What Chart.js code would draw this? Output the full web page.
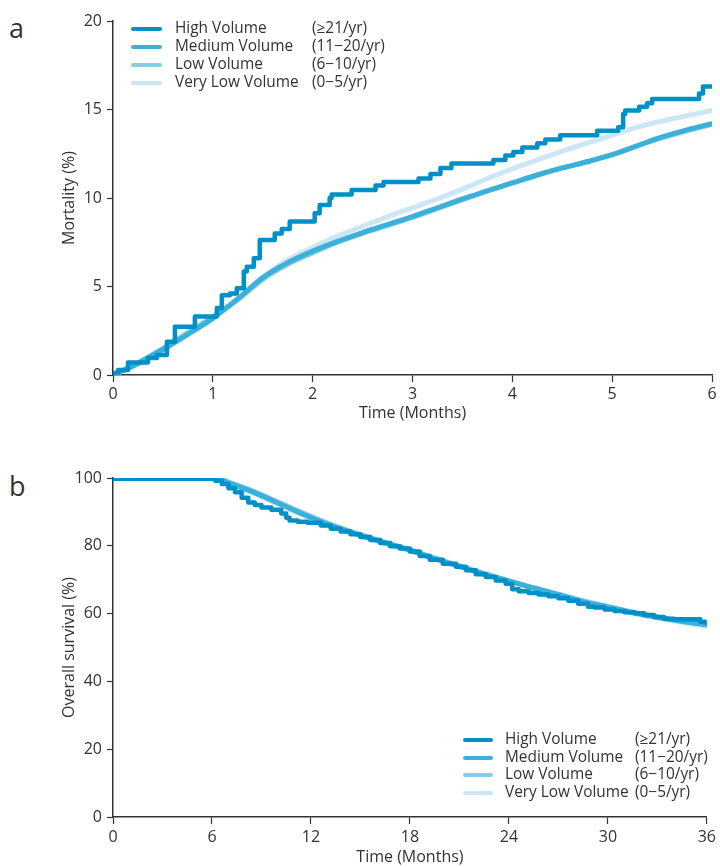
<!DOCTYPE html>
<html>
<head>
<meta charset="utf-8">
<script src="https://cdn.jsdelivr.net/npm/chart.js@4.4.1/dist/chart.umd.min.js"></script>
<style>
  html, body { margin: 0; padding: 0; background: #ffffff; }
  #page { position: relative; width: 720px; height: 867px; overflow: hidden;
          font-family: 'Open Sans', 'Noto Sans', sans-serif; color: #333333; }
  .panel { position: absolute; left: 0; }
  .tag { position: absolute; font-size: 27px; line-height: 1; color: #333333; }
  .legend { position: absolute; font-size: 15.4px; line-height: 18px; }
  .legend .sw { position: absolute; height: 4px; border-radius: 2px; }
  .legend .nm, .legend .rg { position: absolute; white-space: nowrap; }
</style>
</head>
<body>
<div id="page">
  <div class="tag" style="left:9px; top:14px;">a</div>
  <div class="tag" style="left:9px; top:472px;">b</div>
  <canvas id="chartA" class="panel" width="720" height="430" style="top:0px;"></canvas>
  <canvas id="chartB" class="panel" width="720" height="427" style="top:440px;"></canvas>
  <div id="legendA" class="legend"></div>
  <div id="legendB" class="legend"></div>
</div>
<script>
// ---- Series labels and colours ----
const seriesNames  = ['High Volume', 'Medium Volume', 'Low Volume', 'Very Low Volume'];
const seriesRanges = ['(\u226521/yr)', '(11\u221220/yr)', '(6\u221210/yr)', '(0\u22125/yr)'];
const seriesColors = ['#0090c8', '#3bb0da', '#8ccbe7', '#cbe7f4'];

// ---- Panel a: cumulative mortality (%) over 6 months ----
const monthsA   = [0, 0.25, 0.5, 0.75, 1, 1.25, 1.5, 1.75, 2, 2.25, 2.5, 2.75, 3,
                   3.25, 3.5, 3.75, 4, 4.25, 4.5, 4.75, 5, 5.25, 5.5, 5.75, 6];
const mediumA   = [0, 0.65, 1.45, 2.3, 3.2, 4.3, 5.5, 6.35, 7.0, 7.55, 8.05, 8.5, 8.95,
                   9.45, 9.95, 10.4, 10.85, 11.3, 11.7, 12.05, 12.45, 12.95, 13.45, 13.85, 14.2];
const lowA      = [0, 0.7, 1.5, 2.4, 3.3, 4.25, 5.4, 6.25, 6.9, 7.5, 8.0, 8.45, 8.9,
                   9.4, 9.9, 10.4, 10.85, 11.3, 11.7, 12.05, 12.45, 12.95, 13.4, 13.8, 14.15];
const veryLowA  = [0, 0.6, 1.4, 2.3, 3.25, 4.35, 5.55, 6.5, 7.2, 7.85, 8.4, 8.95, 9.45,
                   9.95, 10.5, 11.1, 11.65, 12.15, 12.65, 13.1, 13.55, 14.0, 14.35, 14.65, 14.95];
// High-volume group: step curve, value after each event time
const highTimesA = [0, 0.05, 0.15, 0.35, 0.44, 0.54, 0.62, 0.82, 1.04, 1.09, 1.17, 1.24, 1.31,
                    1.34, 1.41, 1.47, 1.62, 1.69, 1.77, 2.02, 2.07, 2.17, 2.19, 2.39, 2.63,
                    2.71, 3.06, 3.18, 3.28, 3.39, 3.81, 3.93, 4.01, 4.10, 4.25, 4.33, 4.48,
                    4.85, 5.06, 5.11, 5.13, 5.27, 5.35, 5.40, 5.87, 5.91, 5.98, 6.0];
const highA      = [0, 0.12, 0.28, 0.7, 0.96, 1.13, 1.88, 2.73, 3.3, 3.78, 4.5, 4.6, 4.9,
                    5.85, 6.12, 6.6, 7.63, 8.0, 8.25, 8.67, 9.14, 9.6, 10.0, 10.2, 10.45,
                    10.7, 10.9, 11.1, 11.35, 11.7, 11.95, 12.15, 12.4, 12.6, 12.85, 13.1, 13.3,
                    13.55, 13.8, 14.0, 14.75, 14.95, 15.15, 15.35, 15.6, 15.9, 16.3, 16.3];
const ticksA = { xMax: 6, xStep: 1, yMax: 20, yStep: 5 };

// ---- Panel b: overall survival (%) over 36 months ----
const monthsB   = [0, 6, 6.5, 7, 8, 9, 10, 11, 12, 13, 14, 15, 16, 17, 18, 19, 20,
                   21, 22, 23, 24, 25, 26, 27, 28, 29, 30, 31, 32, 33, 34, 35, 36];
const mediumB   = [100, 100, 99.6, 98.6, 96.8, 94.8, 92.6, 90.4, 88.3, 86.4, 84.7, 83.1, 81.6,
                   80.2, 78.7, 77.0, 75.4, 73.9, 72.4, 71.0, 69.6, 68.2, 66.9, 65.6, 64.2,
                   62.9, 61.9, 60.8, 59.8, 58.9, 58.1, 57.4, 56.8];
const lowB      = [100, 100, 99.7, 98.8, 97.1, 95.1, 92.9, 90.8, 88.7, 86.7, 84.9, 83.3, 81.8,
                   80.3, 78.8, 77.2, 75.6, 74.1, 72.6, 71.1, 69.7, 68.3, 67.0, 65.7, 64.4,
                   63.2, 62.1, 61.0, 60.0, 59.0, 58.1, 57.3, 56.6];
const veryLowB  = [100, 100, 99.5, 98.5, 96.6, 94.5, 92.3, 90.1, 88.1, 86.2, 84.5, 82.9, 81.4,
                   79.9, 78.5, 76.9, 75.3, 73.8, 72.3, 70.9, 69.5, 68.1, 66.8, 65.5, 64.2,
                   63.0, 61.8, 60.7, 59.6, 58.7, 57.8, 57.0, 56.2];
const highTimesB = [0, 6.2, 6.6, 7.0, 7.4, 7.8, 8.2, 8.6, 9.0, 9.6, 10.2, 10.5, 10.7, 11.2,
                    11.8, 12.6, 13.2, 13.8, 14.4, 15.0, 15.6, 16.2, 16.8, 17.4, 18.0, 18.6,
                    19.2, 20.0, 20.8, 21.4, 22.0, 22.6, 23.2, 23.8, 24.2, 24.6, 25.2, 25.8,
                    26.4, 27.0, 27.6, 28.2, 28.8, 29.2, 29.8, 30.4, 31.0, 31.6, 32.2, 32.8,
                    33.4, 34.0, 35.6, 35.9, 36.0];
const highB      = [100, 99.8, 99.2, 98.2, 97.0, 95.8, 94.2, 92.8, 92.0, 91.3, 90.6, 89.5, 88.3, 87.5,
                    87.1, 86.8, 86.0, 85.0, 84.2, 83.4, 82.6, 81.7, 80.8, 79.9, 79.2, 78.3,
                    77.0, 75.9, 74.7, 73.8, 72.8, 71.6, 70.8, 69.8, 68.8, 67.2, 66.6, 66.1,
                    65.6, 65.1, 64.5, 63.8, 62.9, 62.0, 61.8, 61.2, 60.8, 60.4, 60.1, 59.6,
                    59.0, 58.5, 58.3, 57.6, 57.4];
const ticksB = { xMax: 36, xStep: 6, yMax: 100, yStep: 20 };

// ---- Helpers ----
const ink = '#333333';
const baseFont = { family: "'Open Sans', 'Noto Sans', sans-serif", size: 16 };
Chart.defaults.font = baseFont;
Chart.defaults.color = ink;

function pairs(xs, ys) { return xs.map((x, i) => ({ x: x, y: ys[i] })); }

function makeDatasets(high, medium, low, veryLow) {
  const list = [
    { data: high,    stepped: 'after', width: 4.5 },
    { data: medium,  stepped: false,   width: 5 },
    { data: low,     stepped: false,   width: 5 },
    { data: veryLow, stepped: false,   width: 5 }
  ];
  return list.map((d, i) => ({
    label: seriesNames[i],
    data: d.data,
    borderColor: seriesColors[i],
    backgroundColor: seriesColors[i],
    borderWidth: d.width,
    stepped: d.stepped,
    cubicInterpolationMode: d.stepped ? 'default' : 'monotone',
    borderCapStyle: 'round',
    borderJoinStyle: 'round',
    pointRadius: 0,
    fill: false
  }));
}

function makeScales(t, geo) {
  return {
    x: {
      type: 'linear', min: 0, max: t.xMax,
      ticks: { stepSize: t.xStep, color: ink, font: baseFont, padding: geo.xTickPad,
               maxRotation: 0, autoSkip: false },
      grid: { drawOnChartArea: false, tickLength: 7, tickColor: ink, tickWidth: 1.2 },
      border: { color: ink, width: 1.5 },
      title: { display: true, text: 'Time (Months)', color: ink, font: baseFont,
               padding: { top: 0, bottom: geo.xTitlePad } },
      afterFit(s) { s.height = geo.xHeight; }
    },
    y: {
      type: 'linear', min: 0, max: t.yMax,
      ticks: { stepSize: t.yStep, color: ink, font: baseFont, padding: 5 },
      grid: { drawOnChartArea: false, tickLength: 6, tickColor: ink, tickWidth: 1.2 },
      border: { color: ink, width: 1.5 },
      title: { display: true, text: geo.yTitle, color: ink, font: baseFont,
               padding: { top: 60, bottom: 0 } },
      afterFit(s) { s.width = 113; }
    }
  };
}

function makeChart(id, datasets, t, geo) {
  return new Chart(document.getElementById(id), {
    type: 'line',
    data: { datasets: datasets },
    options: {
      responsive: false,
      animation: false,
      devicePixelRatio: 1,
      layout: { padding: { left: 0, right: 8, top: geo.top, bottom: 0 } },
      plugins: { legend: { display: false }, tooltip: { enabled: false } },
      scales: makeScales(t, geo)
    }
  });
}

function buildLegend(id, box) {
  const el = document.getElementById(id);
  el.style.left = box.left + 'px';
  el.style.top = box.top + 'px';
  seriesNames.forEach((name, i) => {
    const cy = i * box.dy;
    const sw = document.createElement('span');
    sw.className = 'sw';
    sw.style.left = '0px';
    sw.style.width = box.swatch + 'px';
    sw.style.top = (cy - 2) + 'px';
    sw.style.background = seriesColors[i];
    const nm = document.createElement('span');
    nm.className = 'nm';
    nm.textContent = name;
    nm.style.left = box.nameX + 'px';
    nm.style.top = (cy - 10) + 'px';
    const rg = document.createElement('span');
    rg.className = 'rg';
    rg.textContent = seriesRanges[i];
    rg.style.left = box.rangeX + 'px';
    rg.style.top = (cy - 10) + 'px';
    el.appendChild(sw); el.appendChild(nm); el.appendChild(rg);
  });
}

// ---- Draw ----
makeChart('chartA',
  makeDatasets(pairs(highTimesA, highA), pairs(monthsA, mediumA), pairs(monthsA, lowA), pairs(monthsA, veryLowA)),
  ticksA,
  { top: 21, xHeight: 55, xTickPad: 3, xTitlePad: 7, yTitle: 'Mortality (%)' });

makeChart('chartB',
  makeDatasets(pairs(highTimesB, highB), pairs(monthsB, mediumB), pairs(monthsB, lowB), pairs(monthsB, veryLowB)),
  ticksB,
  { top: 38, xHeight: 50, xTickPad: 4, xTitlePad: 0, yTitle: 'Overall survival (%)' });

buildLegend('legendA', { left: 131, top: 29, dy: 18, swatch: 31, nameX: 44, rangeX: 181 });
buildLegend('legendB', { left: 463, top: 740, dy: 17.7, swatch: 30, nameX: 42, rangeX: 172 });
</script>
</body>
</html>
